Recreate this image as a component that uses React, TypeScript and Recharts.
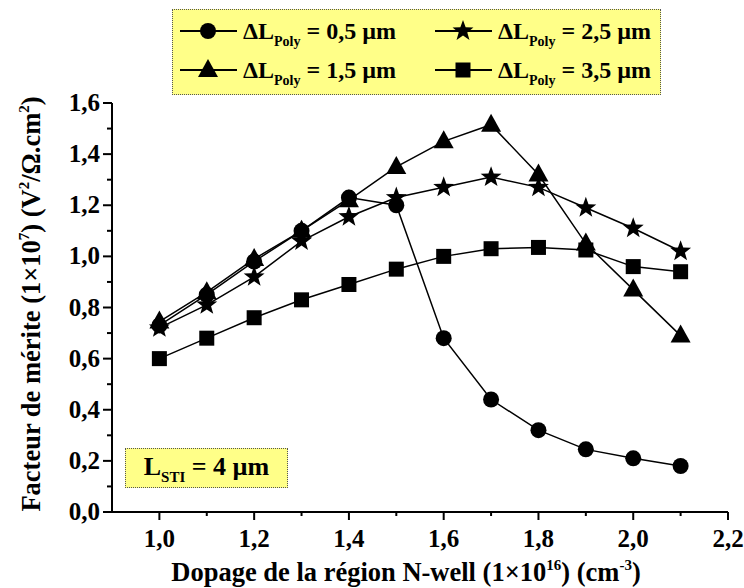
import React from 'react';
import { LineChart, Line, XAxis, YAxis } from 'recharts';

// Dopage N-well (x 1e16 cm-3)
const doping = [1.0, 1.1, 1.2, 1.3, 1.4, 1.5, 1.6, 1.7, 1.8, 1.9, 2.0, 2.1];

// Facteur de mérite (x 1e7) for each ΔL_Poly
const poly05 = [0.73, 0.85, 0.98, 1.10, 1.23, 1.20, 0.68, 0.44, 0.32, 0.245, 0.21, 0.18];
const poly15 = [0.745, 0.86, 0.99, 1.10, 1.22, 1.35, 1.45, 1.515, 1.32, 1.05, 0.87, 0.69];
const poly25 = [0.72, 0.81, 0.92, 1.06, 1.155, 1.23, 1.27, 1.31, 1.27, 1.19, 1.11, 1.02];
const poly35 = [0.60, 0.68, 0.76, 0.83, 0.89, 0.95, 1.00, 1.03, 1.035, 1.025, 0.96, 0.94];

const xTicks = [1.0, 1.1, 1.2, 1.3, 1.4, 1.5, 1.6, 1.7, 1.8, 1.9, 2.0, 2.1, 2.2];
const yTicks = [0.0, 0.1, 0.2, 0.3, 0.4, 0.5, 0.6, 0.7, 0.8, 0.9, 1.0, 1.1, 1.2, 1.3, 1.4, 1.5, 1.6];

const data = doping.map((d, i) => ({
  d,
  p05: poly05[i],
  p15: poly15[i],
  p25: poly25[i],
  p35: poly35[i],
}));

const FONT = 'Liberation Serif, Tinos, DejaVu Serif, serif';

const isMajor = (v: number) => Math.round(v * 10) % 2 === 0;
const fmt = (v: number) => v.toFixed(1).replace('.', ',');

type Shape = 'circle' | 'triangle' | 'star' | 'square';

function Marker({ cx, cy, shape }: { cx: number; cy: number; shape: Shape }) {
  if (shape === 'circle') return <circle cx={cx} cy={cy} r={8} fill="#000" />;
  if (shape === 'square') return <rect x={cx - 7.5} y={cy - 7.5} width={15} height={15} fill="#000" />;
  if (shape === 'triangle') {
    return <polygon points={`${cx},${cy - 11} ${cx - 10},${cy + 7} ${cx + 10},${cy + 7}`} fill="#000" />;
  }
  const pts: string[] = [];
  for (let k = 0; k < 10; k++) {
    const r = k % 2 === 0 ? 11 : 4.5;
    const a = -Math.PI / 2 + (k * Math.PI) / 5;
    pts.push(`${cx + r * Math.cos(a)},${cy + r * Math.sin(a)}`);
  }
  return <polygon points={pts.join(' ')} fill="#000" />;
}

const dotFor = (shape: Shape) => (props: any) => (
  <Marker key={`${shape}-${props.index}`} cx={props.cx} cy={props.cy} shape={shape} />
);

const BottomTick = (props: any) => {
  const { x, y, payload } = props;
  const major = isMajor(payload.value);
  return (
    <g>
      <line x1={x} y1={y} x2={x} y2={y + (major ? 8 : 4)} stroke="#000" strokeWidth={2} />
      {major && (
        <text x={x} y={y + 35} textAnchor="middle" fontFamily={FONT} fontWeight="bold" fontSize={25} fill="#000">
          {fmt(payload.value)}
        </text>
      )}
    </g>
  );
};

const LeftTick = (props: any) => {
  const { x, y, payload } = props;
  const major = isMajor(payload.value);
  return (
    <g>
      <line x1={x} y1={y} x2={x - (major ? 9 : 5)} y2={y} stroke="#000" strokeWidth={2} />
      {major && (
        <text x={x - 12} y={y + 8} textAnchor="end" fontFamily={FONT} fontWeight="bold" fontSize={25} fill="#000">
          {fmt(payload.value)}
        </text>
      )}
    </g>
  );
};

const TopTick = (props: any) => {
  const { x, y, payload } = props;
  return <line x1={x} y1={y} x2={x} y2={y + (isMajor(payload.value) ? 9 : 4)} stroke="#000" strokeWidth={2} />;
};

const RightTick = (props: any) => {
  const { x, y, payload } = props;
  return <line x1={x} y1={y} x2={x - (isMajor(payload.value) ? 9 : 5)} y2={y} stroke="#000" strokeWidth={2} />;
};

const legendItems: { label: string; shape: Shape; col: number; row: number }[] = [
  { label: '0,5', shape: 'circle', col: 0, row: 0 },
  { label: '1,5', shape: 'triangle', col: 0, row: 1 },
  { label: '2,5', shape: 'star', col: 1, row: 0 },
  { label: '3,5', shape: 'square', col: 1, row: 1 },
];

const LegendBox = () => (
  <div
    style={{
      position: 'absolute',
      left: 172,
      top: 9,
      width: 489,
      height: 86,
      background: '#ffff88',
      border: '1px dotted #555',
      boxSizing: 'border-box',
    }}
  >
    <svg width={487} height={84} style={{ display: 'block' }}>
      {legendItems.map((it) => {
        const x0 = it.col === 0 ? 7 : 262;
        const y0 = it.row === 0 ? 21 : 60;
        return (
          <g key={it.label}>
            <line x1={x0} y1={y0} x2={x0 + 57} y2={y0} stroke="#000" strokeWidth={2} />
            <Marker cx={x0 + 28} cy={y0} shape={it.shape} />
            <text x={x0 + 63} y={y0 + 8} fontFamily={FONT} fontWeight="bold" fontSize={24} fill="#000">
              ΔL
              <tspan fontSize={14} dy={7}>Poly</tspan>
              <tspan dy={-7}>{` = ${it.label} µm`}</tspan>
            </text>
          </g>
        );
      })}
    </svg>
  </div>
);

export default function App() {
  return (
    <div style={{ position: 'absolute', left: 0, top: 0, width: 744, height: 588, background: '#fff' }}>
      <LineChart width={744} height={588} data={data} margin={{ top: 103, right: 16, left: 0, bottom: 0 }}>
        <XAxis
          dataKey="d"
          type="number"
          domain={[0.9, 2.2]}
          ticks={xTicks}
          interval={0}
          height={76}
          tickSize={0}
          tickMargin={0}
          tickLine={false}
          tick={<BottomTick />}
          axisLine={{ stroke: '#000', strokeWidth: 2 }}
          label={{
            content: () => (
              <text x={406} y={581} textAnchor="middle" fontFamily={FONT} fontWeight="bold" fontSize={26.5} fill="#000">
                Dopage de la région N-well (1×10
                <tspan fontSize={15} dy={-11}>16</tspan>
                <tspan dy={11}>) (cm</tspan>
                <tspan fontSize={15} dy={-11}>-3</tspan>
                <tspan dy={11}>)</tspan>
              </text>
            ),
          }}
        />
        <XAxis
          xAxisId="top"
          orientation="top"
          dataKey="d"
          type="number"
          domain={[0.9, 2.2]}
          ticks={xTicks}
          interval={0}
          height={0}
          tickSize={0}
          tickMargin={0}
          tickLine={false}
          tick={<TopTick />}
          axisLine={{ stroke: '#000', strokeWidth: 2 }}
        />
        <YAxis
          type="number"
          domain={[0, 1.6]}
          ticks={yTicks}
          interval={0}
          width={112}
          tickSize={0}
          tickMargin={0}
          tickLine={false}
          tick={<LeftTick />}
          axisLine={{ stroke: '#000', strokeWidth: 2 }}
          label={{
            content: () => (
              <text
                x={0}
                y={0}
                transform="translate(40, 304) rotate(-90)"
                textAnchor="middle"
                fontFamily={FONT}
                fontWeight="bold"
                fontSize={26.5}
                fill="#000"
              >
                Facteur de mérite (1×10
                <tspan fontSize={15} dy={-11}>7</tspan>
                <tspan dy={11}>) (V</tspan>
                <tspan fontSize={15} dy={-11}>2</tspan>
                <tspan dy={11}>/Ω.cm</tspan>
                <tspan fontSize={15} dy={-11}>2</tspan>
                <tspan dy={11}>)</tspan>
              </text>
            ),
          }}
        />
        <YAxis
          yAxisId="right"
          orientation="right"
          type="number"
          domain={[0, 1.6]}
          ticks={yTicks}
          interval={0}
          width={0}
          tickSize={0}
          tickMargin={0}
          tickLine={false}
          tick={<RightTick />}
          axisLine={{ stroke: '#000', strokeWidth: 2 }}
        />
        <Line dataKey="p05" stroke="#000" strokeWidth={1.5} dot={dotFor('circle')} isAnimationActive={false} />
        <Line dataKey="p15" stroke="#000" strokeWidth={1.5} dot={dotFor('triangle')} isAnimationActive={false} />
        <Line dataKey="p25" stroke="#000" strokeWidth={1.5} dot={dotFor('star')} isAnimationActive={false} />
        <Line dataKey="p35" stroke="#000" strokeWidth={1.5} dot={dotFor('square')} isAnimationActive={false} />
      </LineChart>
      <LegendBox />
      <div
        style={{
          position: 'absolute',
          left: 125,
          top: 448,
          width: 163,
          height: 40,
          background: '#ffff88',
          border: '1px dotted #555',
          boxSizing: 'border-box',
          fontFamily: FONT,
          fontWeight: 'bold',
          fontSize: 26,
          lineHeight: '36px',
          textAlign: 'center',
          color: '#000',
        }}
      >
        L<sub style={{ fontSize: 15, verticalAlign: 'baseline', position: 'relative', top: 7 }}>STI</sub> = 4 µm
      </div>
    </div>
  );
}
